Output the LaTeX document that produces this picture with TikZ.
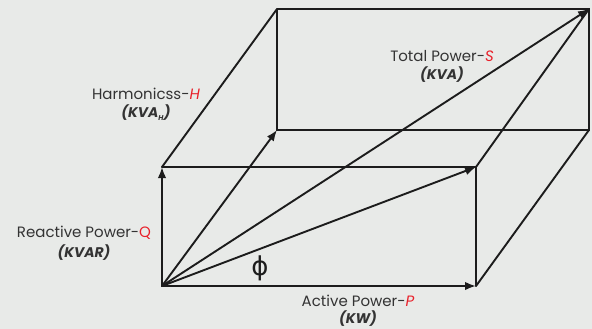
\documentclass[tikz,border=0pt]{standalone}
\usepackage{fontspec}
\setmainfont{Poppins}
\newfontfamily\phifont{DejaVu Sans}
\usetikzlibrary{arrows.meta}
\definecolor{bgc}{HTML}{E8EAE8}
\definecolor{txt}{HTML}{333333}
\definecolor{redc}{HTML}{E8202A}
\definecolor{ln}{HTML}{1C1C1C}
\tikzset{
  edge/.style={draw=ln, line width=1.9pt, line cap=round},
  vec/.style={edge, -{Latex[length=11pt,width=8.5pt]}},
  lbl/.style={text=txt, font=\fontsize{15}{16}\selectfont, align=center, inner sep=0pt},
  unitlbl/.style={text=txt, font=\fontsize{14}{16}\selectfont\bfseries\itshape, inner sep=0pt}
}
\begin{document}
\begin{tikzpicture}[x=1pt,y=-1pt]
\fill[bgc] (0,0) rectangle (592,329);
\useasboundingbox (0,0) rectangle (592,329);
% corners
\coordinate (O) at (162,286);
\coordinate (A) at (476,286);
\coordinate (B) at (476,167);
\coordinate (C) at (162,167);
\coordinate (D) at (277,130);
\coordinate (E) at (589,130);
\coordinate (F) at (589,9);
\coordinate (G) at (277,9);
% box edges
\draw[edge] (C) -- (B) -- (A);
\draw[edge] (G) -- (F) -- (E) -- (D) -- (G);
\draw[edge] (C) -- (G);
\draw[edge] (B) -- (F);
\draw[edge] (A) -- (E);
% vectors
\draw[vec] (O) -- (A);
\draw[vec] (O) -- (C);
\draw[vec] (O) -- (D);
\draw[vec] (O) -- (B);
\draw[vec] (O) -- (F);
% labels
\node[lbl] (hl) at (146,94) {Harmonicss-\textcolor{redc}{\itshape H}};
\node[unitlbl] (hu) at (146,113) {(KVA\textsubscript{\fontsize{7}{7}\selectfont H})};
\node[lbl] (sl) at (442,56) {Total Power-\textcolor{redc}{\itshape S}};
\node[unitlbl] (su) at (442,75) {(KVA)};
\node[lbl] (ql) at (84,233) {Reactive Power-\textcolor{redc}{Q}};
\node[unitlbl] (qu) at (84,253) {(KVAR)};
\node[lbl] (pl) at (358,301) {Active Power-\textcolor{redc}{\itshape P}};
\node[unitlbl] (pu) at (358,319) {(KW)};
\node[text=ln, font=\phifont\fontsize{26}{26}\selectfont, inner sep=0pt] (phi) at (260,268) {ϕ};
\end{tikzpicture}
\end{document}
